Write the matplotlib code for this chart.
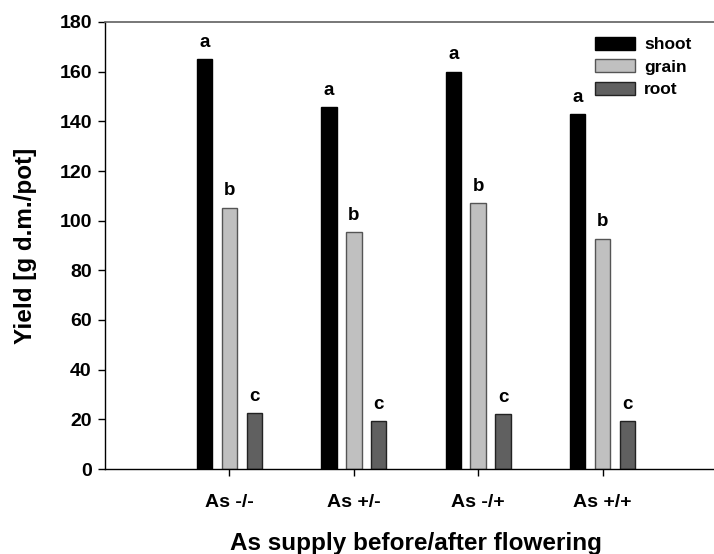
import matplotlib
matplotlib.use("Agg")
import matplotlib.pyplot as plt
import numpy as np

plt.rcParams['font.family'] = ['Liberation Sans', 'DejaVu Sans']
plt.rcParams['font.weight'] = 'bold'

categories = ["As -/-", "As +/-", "As -/+", "As +/+"]
shoot = [165, 145.7, 160, 143]
grain = [105.3, 95.3, 107, 92.8]
root = [22.4, 19.2, 22.0, 19.2]
series_names = ["shoot", "grain", "root"]
letters = ["a", "b", "c"]

fig = plt.figure(figsize=(7.14, 5.54), dpi=100)
ax = fig.add_axes([105/714, 85/554, 622/714, 447/554])

x = np.arange(1, len(categories) + 1)
w = 0.125
off = 0.2
colors = ["#000000", "#c0c0c0", "#606060"]
edges = ["#000000", "#555555", "#222222"]
for i, (vals, name) in enumerate(zip([shoot, grain, root], series_names)):
    pos = x + (i - 1) * off
    ax.bar(pos, vals, width=w, color=colors[i], edgecolor=edges[i], linewidth=1.0, label=name)
    for p, v in zip(pos, vals):
        ax.annotate(letters[i], (p, v), xytext=(0, 6), textcoords='offset points',
                    ha='center', va='bottom', fontsize=13.5, fontweight='bold')

ax.set_xlim(0, 5)
ax.set_ylim(0, 180)
ax.set_yticks(range(0, 181, 20))
ax.set_xticks(x)
ax.set_xticklabels(categories)
ax.tick_params(axis='both', labelsize=14, direction='out', length=5, width=1, colors='black')
ax.tick_params(axis='y', pad=4.5)
ax.tick_params(axis='x', pad=13)
for lab in ax.get_xticklabels() + ax.get_yticklabels():
    lab.set_fontweight('bold')
ax.spines['right'].set_visible(False)
ax.spines['top'].set_color('#606060')
ax.spines['top'].set_linewidth(1.2)
ax.spines['left'].set_linewidth(1.0)
ax.spines['bottom'].set_linewidth(1.0)

ax.set_ylabel("Yield [g d.m./pot]", fontsize=17.5, fontweight='bold', labelpad=16)
ax.set_xlabel("As supply before/after flowering", fontsize=17.5, fontweight='bold', labelpad=15)

leg = ax.legend(loc='upper left', bbox_to_anchor=(0.788, 0.967), frameon=False,
                fontsize=12.5, handlelength=2.3, handleheight=0.8, labelspacing=0.39,
                handletextpad=0.52, borderaxespad=0, borderpad=0)
for t in leg.get_texts():
    t.set_fontweight('bold')

fig.savefig("out.png", dpi=100)
